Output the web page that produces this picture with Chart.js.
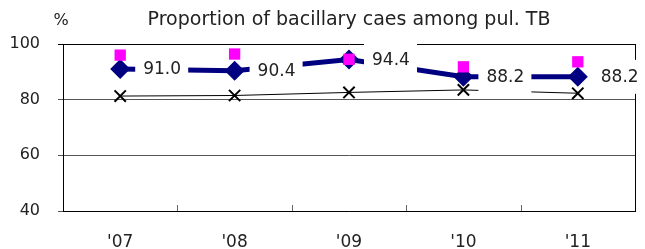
<!DOCTYPE html>
<html>
<head>
<meta charset="utf-8">
<script src="https://cdn.jsdelivr.net/npm/chart.js@4/dist/chart.umd.min.js"></script>
<style>
  html, body { margin: 0; background: #fff; }
</style>
</head>
<body>
<canvas id="chart" width="645" height="249"></canvas>
<script>
// data
const years = ["'07", "'08", "'09", "'10", "'11"];
const bacillary = [91.0, 90.4, 94.4, 88.2, 88.2];
const pinkVals = [96.0, 96.4, 94.5, 91.8, 93.6];
const blackVals = [81.3, 81.5, 82.6, 83.5, 82.3];
const yTicks = [40, 60, 80, 100];

const FONT = '"DejaVu Sans", Verdana, sans-serif';

// title, % unit, right border and small category ticks
const framePlugin = {
  id: 'frame',
  beforeDatasetsDraw(chart) {
    const { ctx, chartArea: a, scales } = chart;
    ctx.save();
    ctx.strokeStyle = '#000';
    ctx.lineWidth = 1;
    ctx.beginPath();
    ctx.moveTo(a.right + 0.5, a.top);
    ctx.lineTo(a.right + 0.5, a.bottom);
    ctx.stroke();
    ctx.strokeStyle = '#666';
    ctx.beginPath();
    for (let i = 0; i < years.length - 1; i++) {
      const x = Math.round((scales.x.getPixelForValue(i) + scales.x.getPixelForValue(i + 1)) / 2) + 0.5;
      ctx.moveTo(x, a.bottom);
      ctx.lineTo(x, a.bottom - 6);
    }
    ctx.stroke();
    ctx.restore();
  },
  afterDraw(chart) {
    const { ctx, chartArea: a } = chart;
    ctx.save();
    ctx.fillStyle = '#222';
    ctx.textBaseline = 'alphabetic';
    ctx.textAlign = 'center';
    ctx.font = '19px ' + FONT;
    ctx.fillText('Proportion of bacillary caes among pul. TB', (a.left + a.right) / 2, 25);
    ctx.font = '16px ' + FONT;
    ctx.fillText('%', 61, 25);
    ctx.restore();
  }
};

// white boxed value labels next to the navy points
const labelPlugin = {
  id: 'valueLabels',
  afterDatasetsDraw(chart) {
    const { ctx } = chart;
    const meta = chart.getDatasetMeta(1);
    ctx.save();
    ctx.font = '17px ' + FONT;
    ctx.textBaseline = 'middle';
    ctx.textAlign = 'left';
    meta.data.forEach((pt, i) => {
      const bx = pt.x + 15;
      ctx.fillStyle = '#fff';
      ctx.fillRect(bx, pt.y - 17, 53, 34);
      ctx.fillStyle = '#222';
      ctx.fillText(bacillary[i].toFixed(1), bx + 8, pt.y + 1);
    });
    ctx.restore();
  }
};

new Chart(document.getElementById('chart'), {
  type: 'line',
  data: {
    labels: years,
    datasets: [
      {
        data: pinkVals,
        showLine: false,
        pointStyle: 'rect',
        pointRadius: 8,
        pointBackgroundColor: '#ff00ff',
        pointBorderWidth: 0,
        order: 0
      },
      {
        data: bacillary,
        borderColor: '#000080',
        borderWidth: 5,
        pointStyle: 'rectRot',
        pointRadius: 10,
        pointBackgroundColor: '#000080',
        pointBorderWidth: 0,
        order: 1
      },
      {
        data: blackVals,
        borderColor: '#000',
        borderWidth: 1,
        pointStyle: 'crossRot',
        pointRadius: 8,
        pointBorderColor: '#000',
        pointBorderWidth: 2,
        order: 2
      }
    ]
  },
  options: {
    responsive: false,
    devicePixelRatio: 1,
    animation: false,
    layout: { padding: { top: 44, right: 6, left: 0, bottom: 0 } },
    plugins: { legend: { display: false }, tooltip: { enabled: false } },
    scales: {
      x: {
        offset: true,
        afterFit: s => { s.height = 38; },
        grid: { display: false },
        border: { display: true, color: '#000' },
        ticks: { color: '#222', font: { family: FONT, size: 17 }, padding: 13 }
      },
      y: {
        min: 40,
        max: 100,
        afterFit: s => { s.width = 63; },
        afterBuildTicks: s => { s.ticks = yTicks.map(v => ({ value: v })); },
        grid: {
          color: c => (c.tick && c.tick.value === 100 ? '#000' : '#555'),
          lineWidth: 1,
          tickLength: 5
        },
        border: { display: true, color: '#000' },
        ticks: { color: '#222', font: { family: FONT, size: 16 }, padding: 18 }
      }
    }
  },
  plugins: [framePlugin, labelPlugin]
});
</script>
</body>
</html>
